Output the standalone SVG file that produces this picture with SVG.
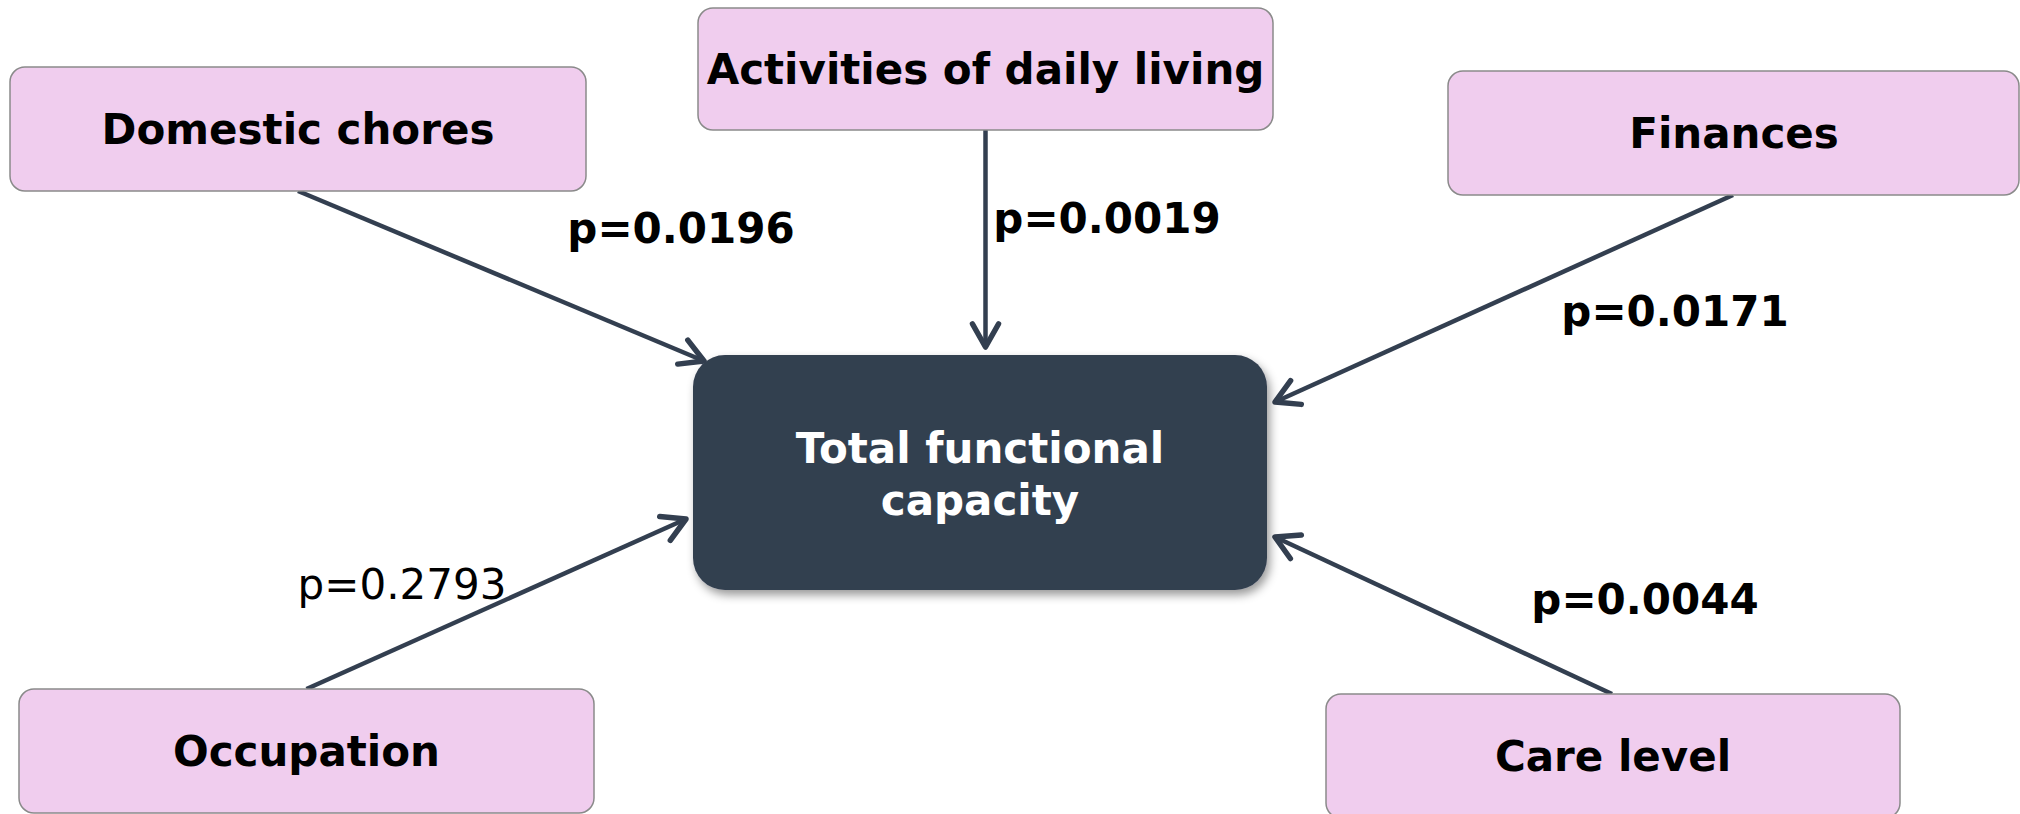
<svg xmlns="http://www.w3.org/2000/svg" width="2020" height="814" viewBox="0 0 2020 814">
<style>
.box{fill:#f0cdee;stroke:#8a8a8a;stroke-width:1.5}
.lbl{font-family:"DejaVu Sans",Verdana,sans-serif;font-weight:bold;font-size:42px;fill:#000;text-anchor:middle}
.main{font-family:"DejaVu Sans",Verdana,sans-serif;font-weight:bold;font-size:42px;fill:#fff;text-anchor:middle}
.p{font-family:"DejaVu Sans",Verdana,sans-serif;font-size:42px;fill:#000;text-anchor:middle}
.pb{font-weight:bold}
.edge{stroke:#333f50;stroke-width:4.5;fill:none;marker-end:url(#arr)}
</style>
<defs>
<marker id="arr" markerUnits="userSpaceOnUse" viewBox="-30 -20 36 40" refX="0" refY="0" markerWidth="36" markerHeight="40" orient="auto">
<path d="M-23,-13 L0,0 L-23,13" fill="none" stroke="#333f50" stroke-width="5.5" stroke-linecap="round" stroke-linejoin="round"/>
</marker>
<filter id="sh" x="-10%" y="-10%" width="125%" height="130%">
<feDropShadow dx="3" dy="5" stdDeviation="5" flood-color="#000" flood-opacity="0.4"/>
</filter>
</defs>
<rect width="2020" height="814" fill="#fff"/>
<g id="connectors">
<line class="edge" x1="298" y1="191" x2="704" y2="361"/>
<line class="edge" x1="985.5" y1="130" x2="985.5" y2="347"/>
<line class="edge" x1="1733" y1="195" x2="1275" y2="402"/>
<line class="edge" x1="306.5" y1="689" x2="686" y2="519"/>
<line class="edge" x1="1612" y1="694" x2="1275" y2="537"/>
</g>
<g id="total">
<rect x="693" y="355" width="574" height="235" rx="32" fill="#333f50" filter="url(#sh)"/>
<text class="main" x="980" y="463">Total functional</text>
<text class="main" x="980" y="515">capacity</text>
</g>
<g id="domestic">
<rect class="box" x="10" y="67" width="576" height="124" rx="15"/>
<text class="lbl" x="298" y="144">Domestic chores</text>
</g>
<g id="adl">
<rect class="box" x="698" y="8" width="575" height="122" rx="15"/>
<text class="lbl" x="985.5" y="84">Activities of daily living</text>
</g>
<g id="finances">
<rect class="box" x="1448" y="71" width="571" height="124" rx="15"/>
<text class="lbl" x="1734" y="148">Finances</text>
</g>
<g id="occupation">
<rect class="box" x="19" y="689" width="575" height="124" rx="15"/>
<text class="lbl" x="306.5" y="766">Occupation</text>
</g>
<g id="care">
<rect class="box" x="1326" y="694" width="574" height="124" rx="15"/>
<text class="lbl" x="1613" y="771">Care level</text>
</g>
<g id="labels">
<text class="p pb" x="681" y="243">p=0.0196</text>
<text class="p pb" x="1107" y="233">p=0.0019</text>
<text class="p pb" x="1675" y="326">p=0.0171</text>
<text class="p" x="402" y="599">p=0.2793</text>
<text class="p pb" x="1645" y="614">p=0.0044</text>
</g>
</svg>
